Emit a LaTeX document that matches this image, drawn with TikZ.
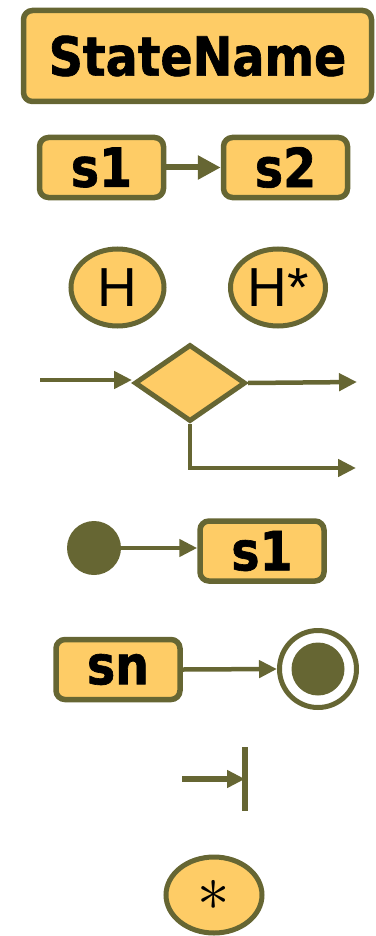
\documentclass[tikz,border=0pt]{standalone}
\usepackage{fontspec}
\setmainfont{DejaVu Sans}
\newfontfamily\boldf[FakeStretch=0.88,FakeBold=1.2]{DejaVu Sans Bold}
\newfontfamily\arialf{Liberation Sans}
\usetikzlibrary{shapes.geometric,arrows.meta}
\definecolor{fillc}{HTML}{FECC66}
\definecolor{linec}{HTML}{666633}
\begin{document}
\begin{tikzpicture}[x=1pt,y=-1pt,
  statebox/.style={draw=linec,fill=fillc,line width=5.5pt,rounded corners=9pt,inner sep=0pt,
    minimum width=124pt,minimum height=60pt,font=\boldf\fontsize{54}{54}\selectfont},
  hist/.style={ellipse,draw=linec,fill=fillc,line width=5pt,inner sep=0pt,
    font=\arialf\fontsize{55}{55}\selectfont},
  conn/.style={draw=linec,line width=4.5pt,-{Triangle[length=18pt,width=17pt]},linec},
]
\useasboundingbox (0,0) rectangle (375,936);
% StateName
\node[statebox,minimum width=348pt,minimum height=91pt] (name) at (197.5,56) {StateName};
% s1 -> s2
\node[statebox] (a1) at (101.5,167.5) {s1};
\node[statebox] (a2) at (285.5,167.5) {s2};
\draw[conn,line width=6pt,-{Triangle[length=23pt,width=23pt]}] (a1.east) -- (a2.west);
% history
\node[hist,minimum width=93pt,minimum height=77pt] (h) at (117.5,287.5) {H};
\node[hist,minimum width=95pt,minimum height=77pt] (hs) at (278,287.5) {H*};
% choice
\node[diamond,draw=linec,fill=fillc,line width=5pt,inner sep=0pt,
  minimum width=111pt,minimum height=77pt] (dia) at (190,383) {};
\coordinate (din) at (40,380);
\coordinate (dout1) at (357,382);
\coordinate (dout2) at (356,468);
\draw[conn] (din) -- (din -| dia.west);
\draw[conn] (dia.east) -- (dout1);
\draw[conn] (dia.south) |- (dout2);
% initial
\node[circle,fill=linec,minimum size=54pt,inner sep=0pt] (init) at (94,548) {};
\node[statebox] (b1) at (262,551) {s1};
\draw[conn] (init.east) -- (init.east -| b1.west);
% final
\node[statebox] (sn) at (118,669.5) {sn};
\node[circle,draw=linec,line width=5pt,fill=white,minimum size=77pt,inner sep=0pt] (fin) at (318,669) {};
\node[circle,fill=linec,minimum size=53pt,inner sep=0pt] (finin) at (318,669) {};
\draw[conn] (sn.east) -- (fin.west);
% junction / entry bar
\coordinate (j0) at (182,779);
\node[fill=linec,minimum width=5.5pt,minimum height=64pt,inner sep=0pt] (bar) at (245,779) {};
\draw[conn,line width=6pt] (j0) -- (bar.center);
% star
\node[hist,minimum width=96pt,minimum height=76pt] (star) at (214,895) {\scalebox{2.6}{$\ast$}};
\end{tikzpicture}
\end{document}
